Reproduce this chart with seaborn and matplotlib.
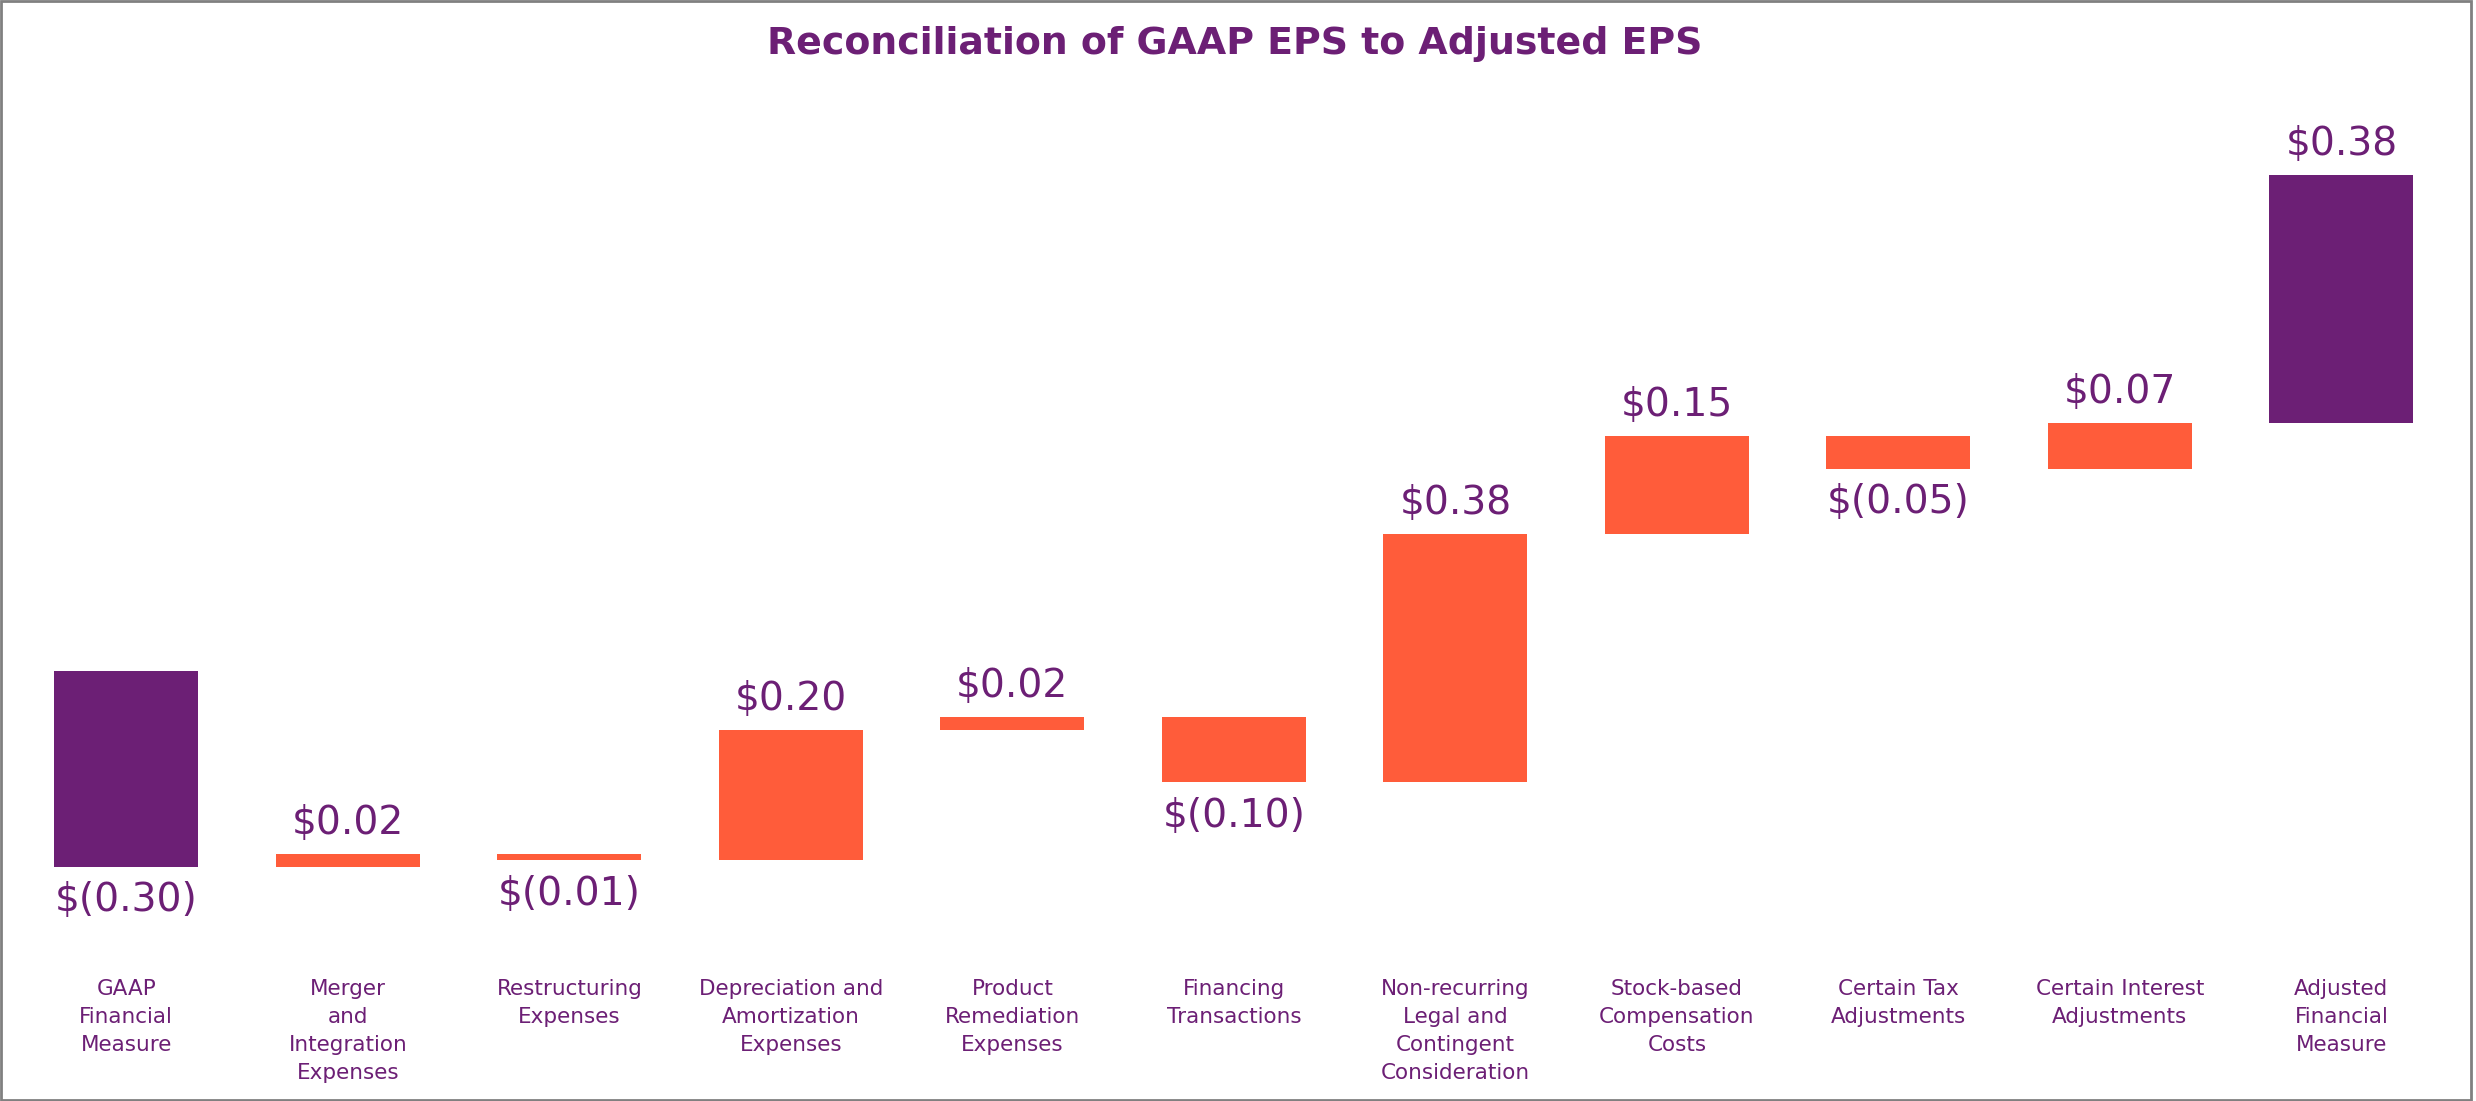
import matplotlib
matplotlib.use("Agg")
import matplotlib.pyplot as plt
import seaborn as sns
import numpy as np
import pandas as pd
from matplotlib.patches import Rectangle

# ---- data ----
categories = [
    "GAAP\nFinancial\nMeasure",
    "Merger\nand\nIntegration\nExpenses",
    "Restructuring\nExpenses",
    "Depreciation and\nAmortization\nExpenses",
    "Product\nRemediation\nExpenses",
    "Financing\nTransactions",
    "Non-recurring\nLegal and\nContingent\nConsideration",
    "Stock-based\nCompensation\nCosts",
    "Certain Tax\nAdjustments",
    "Certain Interest\nAdjustments",
    "Adjusted\nFinancial\nMeasure",
]
values = [-0.30, 0.02, -0.01, 0.20, 0.02, -0.10, 0.38, 0.15, -0.05, 0.07, 0.38]
value_labels = ["$(0.30)", "$0.02", "$(0.01)", "$0.20", "$0.02", "$(0.10)",
                "$0.38", "$0.15", "$(0.05)", "$0.07", "$0.38"]
kinds = ["total"] + ["adjustment"] * 9 + ["total"]

PURPLE = "#6C1F75"
ORANGE = "#FF5C3A"
kind_colors = {"total": PURPLE, "adjustment": ORANGE}

# waterfall geometry (as drawn in the reference)
bottoms, heights = [], []
running = 0.0
for i, (v, k) in enumerate(zip(values, kinds)):
    if i == 0:
        bottoms.append(0.0); heights.append(v); running = v
    elif k == "adjustment":
        bottoms.append(running); heights.append(v); running += v
    else:
        bottoms.append(running); heights.append(v)

df = pd.DataFrame({"category": categories, "height": heights,
                   "bottom": bottoms, "kind": kinds, "label": value_labels})

sns.set_theme(style="white")
plt.rcParams["font.family"] = ["DejaVu Sans"]

fig = plt.figure(figsize=(24.76, 11.01), dpi=100, facecolor="white")
ax = fig.add_axes([0.00628, 0.1281, 0.9841, 0.7811])

sns.barplot(data=df, x="category", y="height", bottom=df["bottom"].to_numpy(),
            width=0.65, saturation=1, color=ORANGE, errorbar=None, ax=ax,
            linewidth=0)
for p, k in zip(ax.patches, df["kind"]):
    p.set_facecolor(kind_colors[k])
    p.set_edgecolor("none")

ax.set_xlim(-0.5, len(categories) - 0.5)
ax.set_ylim(-0.4426, 0.8744)
ax.set_xlabel("")
ax.set_ylabel("")
ax.set_yticks([])
for s in ax.spines.values():
    s.set_visible(False)
ax.tick_params(axis="x", length=0, pad=14, labelsize=15.5, labelcolor=PURPLE)
for t in ax.get_xticklabels():
    t.set_va("top")
    t.set_ha("center")
    t.set_linespacing(1.5)

# value labels
for i, row in df.iterrows():
    end = row["bottom"] + row["height"]
    if row["height"] >= 0:
        ax.annotate(row["label"], (i, end), xytext=(0, 14.4), textcoords="offset points",
                    ha="center", va="baseline", fontsize=28.3, color=PURPLE)
    else:
        ax.annotate(row["label"], (i, end), xytext=(0, -10.5), textcoords="offset points",
                    ha="center", va="top", fontsize=28.3, color=PURPLE)

fig.text(0.4985, 1 - 54 / 1101, "Reconciliation of GAAP EPS to Adjusted EPS",
         ha="center", va="baseline", fontsize=27.3, fontweight="bold", color=PURPLE)

# figure border
fig.patches.append(Rectangle((0.0004, 0.0009), 0.9975, 0.9982, transform=fig.transFigure,
                             fill=False, edgecolor="#808080", linewidth=2))

fig.savefig("out.png", dpi=100, facecolor="white")
